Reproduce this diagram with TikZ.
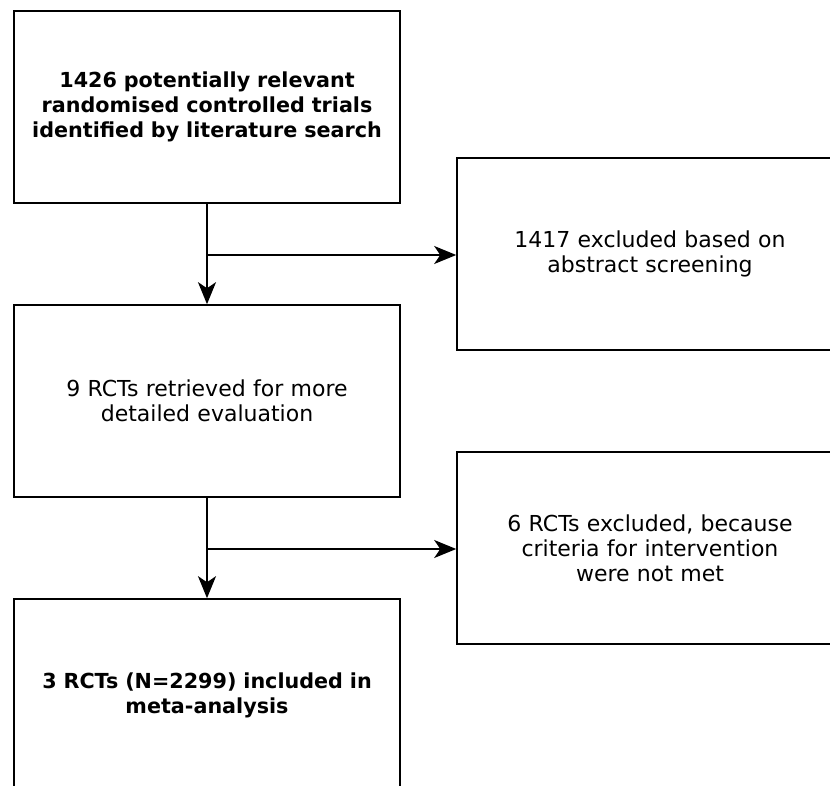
\documentclass[tikz,border=0pt]{standalone}
\usepackage{fontspec}
\setmainfont{DejaVu Sans}
\usetikzlibrary{arrows.meta}
\begin{document}
\begin{tikzpicture}[x=1pt,y=-1pt,
  box/.style={draw=black, line width=1.6pt, minimum width=386pt, minimum height=192pt,
    text width=376pt, align=center, inner sep=0pt,
    font=\fontsize{22pt}{24.8pt}\selectfont},
  boldbox/.style={box, font=\fontsize{20.7pt}{24.8pt}\selectfont\bfseries},
  conn/.style={line width=1.6pt, -{Stealth[length=22pt,width=18pt,inset=6pt]}}]
\useasboundingbox (0,0) rectangle (830,786);
\begin{scope}
\clip (0,0) rectangle (830,786);
\node[boldbox] (n1) at (207,107) {1426 potentially relevant\\randomised controlled trials\\identified by literature search};
\node[box] (n2) at (650,254) {1417 excluded based on\\abstract screening};
\node[box] (n3) at (207,401) {9 RCTs retrieved for more\\detailed evaluation};
\node[box] (n4) at (650,548) {6 RCTs excluded, because\\criteria for intervention\\were not met};
\node[boldbox] (n5) at (207,695) {3 RCTs (N=2299) included in\\meta-analysis};
\end{scope}
\coordinate (b1) at (207,255);
\coordinate (b2) at (207,549);
\draw[conn] (n1.south) -- (n3.north);
\draw[conn] (b1) -- (n2.west |- b1);
\draw[conn] (n3.south) -- (n5.north);
\draw[conn] (b2) -- (n4.west |- b2);
\end{tikzpicture}
\end{document}
